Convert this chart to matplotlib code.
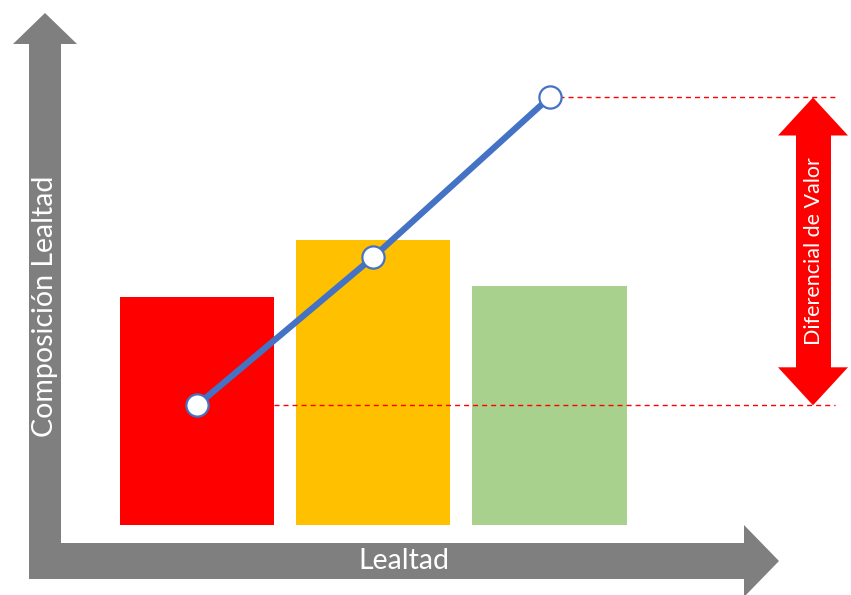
import matplotlib.pyplot as plt
import matplotlib.transforms as mtransforms
from matplotlib.patches import Polygon

plt.rcParams['font.family'] = ['Lato', 'DejaVu Sans']

# datos
categorias = [0, 1, 2]
barras = [4.0, 5.0, 4.2]
colores = ['#ff0000', '#ffc000', '#a9d18e']
composicion = [2.1, 4.7, 7.5]

GRIS = '#7f7f7f'
AZUL = '#4472c4'

fig = plt.figure(figsize=(8.51, 5.95), dpi=100)

# capa en pixeles para las flechas de los ejes
deco = fig.add_axes([0, 0, 1, 1])
deco.set_xlim(0, 851)
deco.set_ylim(595, 0)
deco.axis('off')

flecha_y = [(29, 579), (29, 44), (13, 44), (45, 13), (77, 44), (61, 44), (61, 579)]
flecha_x = [(29, 543), (744, 543), (744, 525), (779, 561), (744, 597),
            (744, 579), (29, 579)]
deco.add_patch(Polygon(flecha_y, closed=True, fc=GRIS, ec='none'))
deco.add_patch(Polygon(flecha_x, closed=True, fc=GRIS, ec='none'))
deco.text(45, 306, 'Composición Lealtad', rotation=90, color='white',
          fontsize=20.5, ha='center', va='center')
deco.text(404, 561, 'Lealtad', color='white', fontsize=20.5,
          ha='center', va='center')

# grafico principal
ax = fig.add_axes([0, 0, 1, 1])
ax.patch.set_visible(False)
ax.set_xlim(-197 / 176.25, 654 / 176.25)
ax.set_ylim(-70 / 57, 525 / 57)
ax.axis('off')

ancho = 0.875
ax.bar(categorias, barras, width=ancho, color=colores, zorder=2)

tope = max(composicion)
base = min(composicion)
x_fin = (835 - 197) / 176.25
guion = (0, (3.6, 2.9))
ax.hlines(tope, categorias[-1], x_fin, color='#ff0000', lw=1.0,
          linestyles=guion, zorder=3)
ax.hlines(base, categorias[0] + ancho / 2, x_fin, color='#ff0000', lw=1.0,
          linestyles=guion, zorder=3)

ax.plot(categorias, composicion, color=AZUL, lw=4.5, marker='o',
        markersize=16, markerfacecolor='white', markeredgecolor=AZUL,
        markeredgewidth=1.6, zorder=4)

# flecha doble del diferencial
trans = mtransforms.blended_transform_factory(deco.transData, ax.transData)
hl = 38 / 57
doble = [(813, tope), (848, tope - hl), (831, tope - hl), (831, base + hl),
         (848, base + hl), (813, base), (778, base + hl), (796, base + hl),
         (796, tope - hl), (778, tope - hl)]
ax.add_patch(Polygon(doble, closed=True, fc='#ff0000', ec='none',
                     transform=trans, zorder=3))
ax.text(814, (tope + base) / 2, 'Diferencial de Valor', rotation=90,
        color='white', fontsize=15.5, ha='center', va='center',
        transform=trans, zorder=5)

fig.savefig('out.png', dpi=100)
